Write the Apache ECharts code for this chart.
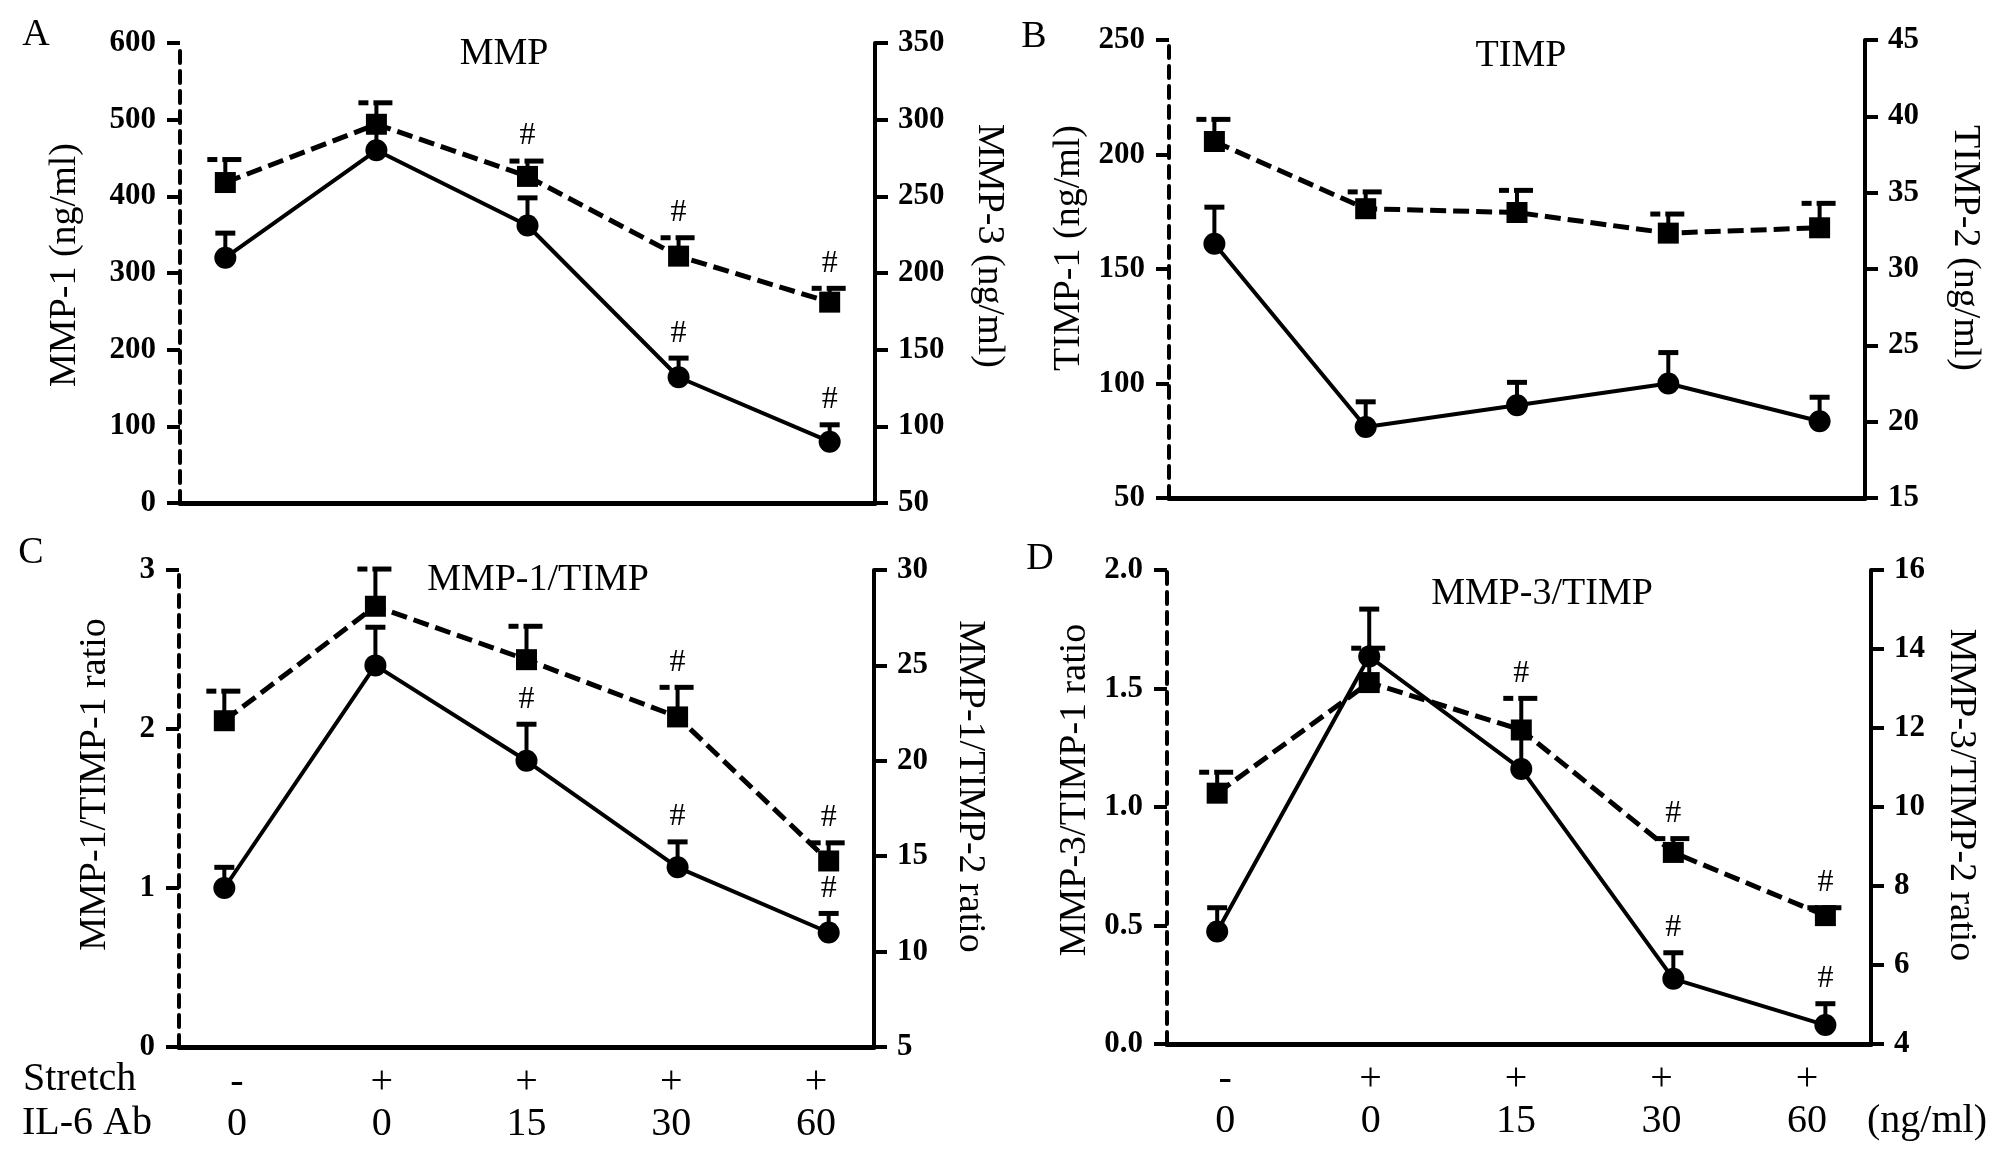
<!DOCTYPE html>
<html><head><meta charset="utf-8">
<script src="https://cdn.jsdelivr.net/npm/echarts@6/dist/echarts.min.js"></script>
<style>html,body{margin:0;padding:0;background:#fff}#c{width:2008px;height:1149px}</style>
</head><body><div id="c"></div>
<script>
// ---- categories / x labels ----
const xIndex = [0, 1, 2, 3, 4];
const stretchLabels = ['-', '+', '+', '+', '+'];
const il6Labels = ['0', '0', '15', '30', '60'];

// ---- Panel A: MMP ----
const mmp1 = [320, 460, 362, 164, 80];
const mmp1Err = [32, 30, 36, 25, 22];
const mmp1Sig = [0, 0, 0, 1, 1];
const mmp3 = [259, 297, 263, 211, 181];
const mmp3Err = [15, 14, 10, 12, 9];
const mmp3Sig = [0, 0, 1, 1, 1];

// ---- Panel B: TIMP ----
const timp1 = [161, 81, 90.5, 100, 83.5];
const timp1Err = [16, 11, 10, 13.5, 10.5];
const timp1Sig = [0, 0, 0, 0, 0];
const timp2 = [38.35, 33.95, 33.7, 32.35, 32.7];
const timp2Err = [1.45, 1.1, 1.45, 1.25, 1.6];
const timp2Sig = [0, 0, 0, 0, 0];

// ---- Panel C: MMP-1/TIMP ----
const r11 = [1.0, 2.40, 1.80, 1.13, 0.72];
const r11Err = [0.13, 0.24, 0.23, 0.16, 0.12];
const r11Sig = [0, 0, 1, 1, 1];
const r12 = [22.1, 28.1, 25.3, 22.3, 14.75];
const r12Err = [1.55, 1.95, 1.75, 1.55, 0.95];
const r12Sig = [0, 0, 0, 1, 1];

// ---- Panel D: MMP-3/TIMP ----
const r31 = [0.475, 1.635, 1.16, 0.275, 0.08];
const r31Err = [0.1, 0.2, 0.14, 0.11, 0.09];
const r31Sig = [0, 0, 0, 1, 1];
const r32 = [10.35, 13.15, 11.95, 8.85, 7.25];
const r32Err = [0.53, 0.87, 0.8, 0.35, 0.2];
const r32Sig = [0, 0, 1, 1, 1];

// ---- axis ranges [min, max, interval] ----
const leftRanges = [[0, 600, 100], [50, 250, 50], [0, 3, 1], [0, 2, 0.5]];
const rightRanges = [[50, 350, 50], [15, 45, 5], [5, 30, 5], [4, 16, 2]];
const leftNames = ['MMP-1 (ng/ml)', 'TIMP-1 (ng/ml)', 'MMP-1/TIMP-1 ratio', 'MMP-3/TIMP-1 ratio'];
const rightNames = ['MMP-3 (ng/ml)', 'TIMP-2 (ng/ml)', 'MMP-1/TIMP-2 ratio', 'MMP-3/TIMP-2 ratio'];
const titles = ['MMP', 'TIMP', 'MMP-1/TIMP', 'MMP-3/TIMP'];
const letters = ['A', 'B', 'C', 'D'];

const solidSets = [[mmp1, mmp1Err, mmp1Sig], [timp1, timp1Err, timp1Sig], [r11, r11Err, r11Sig], [r31, r31Err, r31Sig]];
const dashSets = [[mmp3, mmp3Err, mmp3Sig], [timp2, timp2Err, timp2Sig], [r12, r12Err, r12Sig], [r32, r32Err, r32Sig]];

// ---- layout ----
const FONT = 'Liberation Serif';
const grids = [
  {left: 180, top: 43, width: 695, height: 460},
  {left: 1169, top: 40, width: 696, height: 458},
  {left: 179, top: 570, width: 695, height: 477},
  {left: 1167, top: 570, width: 704, height: 474}
];
const xMins = [-0.3, -0.3, -0.3, -0.33];
const leftGap = [96, 81, 65, 73];
const rightGap = [95, 81, 77, 71];
const leftShift = [8, 21, 24, 17];
const rightShift = [27, 21, 22, 12];
const titlePos = [[504, 54], [1521, 56], [538, 580], [1542, 594]];
const letterPos = [[36, 35], [1034, 37], [31, 553], [1040, 559]];

function errRender(kind) {
  return function (params, api) {
    const x = api.value(0), v = api.value(1), e = api.value(2), s = api.value(3);
    const p0 = api.coord([x, v]);
    const p1 = api.coord([x, v + e]);
    const ch = [{type: 'line', shape: {x1: p0[0], y1: p0[1], x2: p1[0], y2: p1[1]}, style: {stroke: '#000', lineWidth: 4}}];
    if (kind === 'solid') {
      ch.push({type: 'line', shape: {x1: p1[0] - 10, y1: p1[1], x2: p1[0] + 10, y2: p1[1]}, style: {stroke: '#000', lineWidth: 5}});
    } else {
      ch.push({type: 'line', shape: {x1: p1[0] - 18, y1: p1[1], x2: p1[0] - 8, y2: p1[1]}, style: {stroke: '#000', lineWidth: 5}});
      ch.push({type: 'line', shape: {x1: p1[0] - 3, y1: p1[1], x2: p1[0] + 16, y2: p1[1]}, style: {stroke: '#000', lineWidth: 5}});
    }
    if (s) {
      ch.push({type: 'text', x: p1[0], y: p1[1] - 25, style: {text: '#', fill: '#000', fontSize: 32, fontFamily: FONT, align: 'center', verticalAlign: 'middle'}});
    }
    return {type: 'group', children: ch};
  };
}

const xAxes = [], yAxes = [], series = [], graphic = [];
for (let p = 0; p < 4; p++) {
  xAxes.push({
    gridIndex: p, type: 'value', min: xMins[p], max: 4.3,
    axisLine: {onZero: false, lineStyle: {color: '#000', width: 5}},
    axisTick: {show: false}, axisLabel: {show: false}, splitLine: {show: false}
  });
  const lr = leftRanges[p], rr = rightRanges[p];
  const labelStyle = {margin: 24, fontFamily: FONT, fontSize: 31, fontWeight: 'bold', color: '#000'};
  yAxes.push({
    gridIndex: p, type: 'value', position: 'left', min: lr[0], max: lr[1], interval: lr[2],
    axisLine: {show: true, onZero: false, lineStyle: {color: '#000', width: 4, type: [12, 8]}},
    axisTick: {show: true, length: 13, lineStyle: {color: '#000', width: 4}},
    axisLabel: Object.assign({}, labelStyle, p === 3 ? {formatter: v => v.toFixed(1)} : {}),
    splitLine: {show: false},
    name: leftNames[p], nameLocation: 'middle', nameGap: leftGap[p], nameRotate: 90,
    nameTextStyle: {fontFamily: FONT, fontSize: 38, color: '#000', padding: [0, 0, 0, leftShift[p] * 2]}
  });
  yAxes.push({
    gridIndex: p, type: 'value', position: 'right', min: rr[0], max: rr[1], interval: rr[2],
    axisLine: {show: true, onZero: false, lineStyle: {color: '#000', width: 4}},
    axisTick: {show: true, length: 13, lineStyle: {color: '#000', width: 4}},
    axisLabel: Object.assign({}, labelStyle, {margin: 23}),
    splitLine: {show: false},
    name: rightNames[p], nameLocation: 'middle', nameGap: rightGap[p], nameRotate: -90,
    nameTextStyle: {fontFamily: FONT, fontSize: 38, color: '#000', padding: [0, rightShift[p] * 2, 0, 0]}
  });
  const [sv, se, ss] = solidSets[p];
  const [dv, de, ds] = dashSets[p];
  series.push({
    type: 'custom', xAxisIndex: p, yAxisIndex: 2 * p, renderItem: errRender('solid'), z: 3,
    encode: {x: 0, y: 1}, data: xIndex.map(i => [i, sv[i], se[i], ss[i]]), clip: false
  });
  series.push({
    type: 'custom', xAxisIndex: p, yAxisIndex: 2 * p + 1, renderItem: errRender('dash'), z: 3,
    encode: {x: 0, y: 1}, data: xIndex.map(i => [i, dv[i], de[i], ds[i]]), clip: false
  });
  series.push({
    type: 'line', xAxisIndex: p, yAxisIndex: 2 * p + 1, z: 4, clip: false,
    data: xIndex.map(i => [i, dv[i]]), symbol: 'rect', symbolSize: 21,
    lineStyle: {color: '#000', width: 5, type: [16, 7]}, itemStyle: {color: '#000'}
  });
  series.push({
    type: 'line', xAxisIndex: p, yAxisIndex: 2 * p, z: 5, clip: false,
    data: xIndex.map(i => [i, sv[i]]), symbol: 'circle', symbolSize: 22,
    lineStyle: {color: '#000', width: 4}, itemStyle: {color: '#000'}
  });
  graphic.push({type: 'text', x: titlePos[p][0], y: titlePos[p][1],
    style: {text: titles[p], fill: '#000', fontSize: 38, fontFamily: FONT, align: 'center', verticalAlign: 'middle'}});
  graphic.push({type: 'text', x: letterPos[p][0], y: letterPos[p][1],
    style: {text: letters[p], fill: '#000', fontSize: 38, fontFamily: FONT, align: 'center', verticalAlign: 'middle'}});
}
// x-axis label rows for bottom panels
[2, 3].forEach(p => {
  xAxes.push({
    gridIndex: p, type: 'value', min: -0.4, max: p === 3 ? 4.44 : 4.4, position: 'bottom',
    axisLine: {show: false}, axisTick: {show: false}, splitLine: {show: false},
    axisLabel: {
      customValues: xIndex, margin: 14,
      formatter: v => '{s|' + stretchLabels[Math.round(v)] + '}\n{d|' + il6Labels[Math.round(v)] + '}',
      rich: {
        s: {fontFamily: FONT, fontSize: 40, lineHeight: 42, color: '#000'},
        d: {fontFamily: FONT, fontSize: 40, lineHeight: 42, color: '#000'}
      }
    }
  });
});
graphic.push({type: 'text', x: 23, y: 1079, style: {text: 'Stretch', fill: '#000', fontSize: 40, fontFamily: FONT, align: 'left', verticalAlign: 'middle'}});
graphic.push({type: 'text', x: 22, y: 1123, style: {text: 'IL-6 Ab', fill: '#000', fontSize: 40, fontFamily: FONT, align: 'left', verticalAlign: 'middle'}});
graphic.push({type: 'text', x: 1927, y: 1121, style: {text: '(ng/ml)', fill: '#000', fontSize: 40, fontFamily: FONT, align: 'center', verticalAlign: 'middle'}});

const chart = echarts.init(document.getElementById('c'));
chart.setOption({
  animation: false,
  backgroundColor: '#fff',
  grid: grids,
  xAxis: xAxes,
  yAxis: yAxes,
  series: series,
  graphic: graphic
});
</script>
</body></html>
